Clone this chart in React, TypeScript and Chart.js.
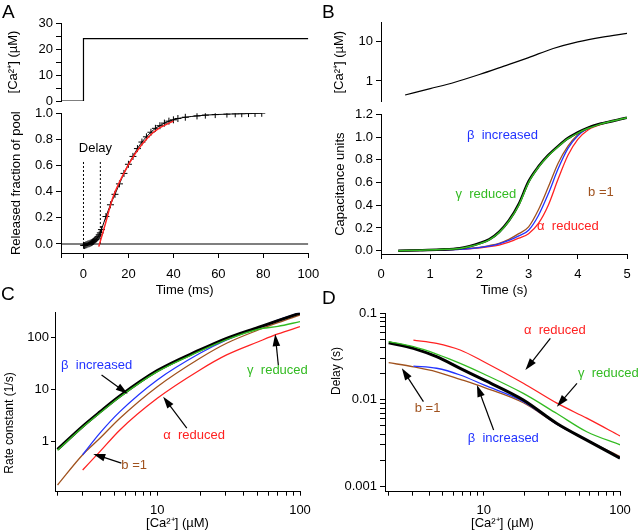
import React, { useEffect, useRef } from 'react';
import { Chart, registerables } from 'chart.js';
Chart.register(...registerables);

const W = 640;
const H = 531;
const FONT = '"Liberation Sans", Arial, Helvetica, sans-serif';
const BLACK = '#000000';
const GREEN = '#33bb22';
const BLUE = '#2233ff';
const RED = '#ff2222';
const BROWN = '#a0521e';

// ---------- Panel A (top): Ca step ----------
const stepTime = [-10, 0, 0, 100];
const stepCa = [0, 0, 24, 24];
const aTopTicks = [0, 5, 10, 15, 20, 25, 30];
const aTopLabels = [0, 10, 20, 30];

// ---------- Panel A (bottom): released fraction ----------
const relTime = [0, 0.5, 1, 1.5, 2, 2.5, 3, 3.5, 4, 4.5, 5, 5.5, 6, 6.5, 7, 7.5, 8, 10, 12, 14, 16, 18, 20, 22, 24, 26, 28, 30, 32, 34, 36, 38, 40, 42, 45.3, 50.5, 54.2, 58.6, 63.8, 67.5, 70.4, 73.4, 76.3, 79.3];
const relFrac = [-0.01, -0.012, -0.008, -0.005, 0, 0.002, 0.006, 0.01, 0.015, 0.02, 0.028, 0.035, 0.045, 0.055, 0.07, 0.085, 0.11, 0.21, 0.3, 0.38, 0.46, 0.54, 0.61, 0.67, 0.73, 0.78, 0.82, 0.855, 0.885, 0.905, 0.925, 0.94, 0.95, 0.96, 0.97, 0.98, 0.986, 0.99, 0.994, 0.996, 0.997, 0.998, 0.999, 1.0];
const fitTime = [6.8, 9.8, 12.7, 17.2, 23.1, 29, 34, 37.9, 40];
const fitFrac = [-0.02, 0.158, 0.337, 0.515, 0.694, 0.821, 0.89, 0.923, 0.94];
const baseTime = [-10, 100];
const baseFrac = [0, 0];
const delayTimes = [0, 7.5];
const delayTop = 0.64;
const aBotYTicks = [0, 0.2, 0.4, 0.6, 0.8, 1.0];
const aXTicks = [-10, 0, 20, 40, 60, 80, 100];
const aXLabels = [0, 20, 40, 60, 80, 100];

// ---------- Panel B (top): Ca ramp ----------
const rampTime = [0.49, 1, 1.5, 2, 2.5, 3, 3.5, 4, 4.5, 5];
const rampCa = [0.44, 0.64, 0.93, 1.46, 2.39, 3.94, 6.7, 9.9, 13.1, 16.2];
const bTopTicks = [1, 10];

// ---------- Panel B (bottom): capacitance ----------
const capTime = [0.35, 0.8, 1.2, 1.6, 1.8, 2.0, 2.2, 2.4, 2.6, 2.8, 3.0, 3.2, 3.4, 3.6, 3.8, 4.0, 4.2, 4.4, 4.6, 4.8, 5.0];
const capBlack = [0.0, 0.004, 0.01, 0.022, 0.04, 0.065, 0.1, 0.165, 0.265, 0.41, 0.61, 0.74, 0.84, 0.92, 0.99, 1.04, 1.08, 1.11, 1.13, 1.15, 1.17];
const capGreen = [0.0, 0.004, 0.01, 0.02, 0.037, 0.06, 0.095, 0.16, 0.26, 0.4, 0.6, 0.735, 0.835, 0.915, 0.985, 1.035, 1.075, 1.105, 1.13, 1.15, 1.17];
const capBrown = [0.0, 0.003, 0.007, 0.014, 0.02, 0.03, 0.045, 0.065, 0.1, 0.15, 0.21, 0.36, 0.56, 0.77, 0.92, 1.02, 1.08, 1.11, 1.13, 1.15, 1.17];
const capBlue = [0.0, 0.003, 0.007, 0.013, 0.019, 0.028, 0.04, 0.06, 0.09, 0.13, 0.18, 0.31, 0.5, 0.72, 0.9, 1.01, 1.075, 1.11, 1.13, 1.15, 1.17];
const capRed = [0.0, 0.003, 0.006, 0.012, 0.017, 0.025, 0.035, 0.05, 0.075, 0.11, 0.15, 0.24, 0.4, 0.63, 0.84, 0.98, 1.06, 1.1, 1.13, 1.15, 1.17];
const bBotYTicks = [0, 0.2, 0.4, 0.6, 0.8, 1.0, 1.2];
const bXTicks = [0, 1, 2, 3, 4, 5];

// ---------- Panel C: rate constant ----------
const rateConc = [2, 3, 3.96, 5.47, 10, 19.9, 30.6, 51, 70, 100];
const rateConcLate = [3, 3.96, 5.47, 10, 19.9, 30.6, 51, 70, 100];
const rateBlack = [0.7, 1.94, 3.66, 7.43, 22.8, 57, 95.6, 155, 209, 290];
const rateGreen = [0.67, 1.86, 3.5, 7.1, 21.8, 54, 90, 143, 162, 200];
const rateBrown = [0.144, 0.55, 1.14, 2.77, 11.2, 39.5, 76.7, 138, 191, 268];
const rateBlue = [0.55, 1.43, 3.71, 15.1, 49.2, 88.7, 155, 215, 297];
const rateRed = [0.28, 0.63, 1.65, 6.7, 23.5, 45.7, 82, 116, 160];
const logXTicks = [2, 3, 4, 5, 6, 7, 8, 9, 10, 20, 30, 40, 50, 60, 70, 80, 90, 100];
const logXLabels = [10, 100];
const cYTicks = [1, 10, 100];

// ---------- Panel D: delay ----------
const delayConc = [2, 3.04, 4.5, 6.7, 10, 19.5, 34.4, 57, 100];
const delayConcLate = [3.04, 4.5, 6.7, 10, 19.5, 34.4, 57, 100];
const delayBlack = [0.0457, 0.0393, 0.0314, 0.023, 0.0169, 0.0099, 0.0053, 0.0034, 0.0021];
const delayGreen = [0.047, 0.041, 0.0337, 0.0263, 0.0198, 0.0118, 0.0069, 0.00425, 0.003];
const delayBrown = [0.0268, 0.024, 0.021, 0.0172, 0.0139, 0.0092, 0.0052, 0.0034, 0.0022];
const delayBlue = [0.0245, 0.0231, 0.0193, 0.0148, 0.0095, 0.0052, 0.0034, 0.00214];
const delayRed = [0.049, 0.0449, 0.0376, 0.0275, 0.0155, 0.0091, 0.0061, 0.0038];
const dYTicks = [0.001, 0.002, 0.003, 0.004, 0.005, 0.006, 0.007, 0.008, 0.009, 0.01, 0.02, 0.03, 0.04, 0.05, 0.06, 0.07, 0.08, 0.09, 0.1];
const dYLabels = [0.001, 0.01, 0.1];

// ---------- annotations (data coordinates) ----------
const bNotes = [
  { text: 'β  increased', x: 2.47, y: 1.018, color: BLUE },
  { text: 'γ  reduced', x: 2.13, y: 0.496, color: GREEN },
  { text: 'b =1', x: 4.47, y: 0.516, color: BROWN },
  { text: 'α  reduced', x: 3.8, y: 0.217, color: RED },
];
const cNotes = [
  { text: 'β  increased', x: 3.76, y: 29.3, color: BLUE },
  { text: 'γ  reduced', x: 69.5, y: 23.5, color: GREEN },
  { text: 'α  reduced', x: 18.1, y: 1.32, color: RED },
  { text: 'b =1', x: 6.89, y: 0.35, color: BROWN },
];
const cArrows = [
  { x1: 4.07, y1: 18.8, x2: 6.2, y2: 8.2 },
  { x1: 70.5, y1: 29.3, x2: 67, y2: 115 },
  { x1: 16.1, y1: 1.78, x2: 11.0, y2: 7.2 },
  { x1: 5.6, y1: 0.38, x2: 3.56, y2: 0.57 },
];
const dNotes = [
  { text: 'α  reduced', x: 33.2, y: 0.064, color: RED },
  { text: 'γ  reduced', x: 82, y: 0.0202, color: GREEN },
  { text: 'b =1', x: 3.86, y: 0.00793, color: BROWN },
  { text: 'β  increased', x: 13.9, y: 0.00357, color: BLUE },
];
const dArrows = [
  { x1: 30.8, y1: 0.0513, x2: 20.2, y2: 0.022 },
  { x1: 48.3, y1: 0.0154, x2: 34.4, y2: 0.0083 },
  { x1: 3.6, y1: 0.0095, x2: 2.5, y2: 0.0231 },
  { x1: 11.8, y1: 0.00445, x2: 8.9, y2: 0.0148 },
];

// ---------- helpers ----------
const pts = (xs: number[], ys: number[]) => ys.map((y, i) => ({ x: xs[i], y }));

function lineDs(xs: number[], ys: number[], color: string, width: number, extra: any = {}) {
  return {
    data: pts(xs, ys),
    borderColor: color,
    backgroundColor: color,
    borderWidth: width,
    pointRadius: 0,
    pointHoverRadius: 0,
    fill: false,
    tension: 0,
    cubicInterpolationMode: 'monotone',
    ...extra,
  };
}

const isIn = (list: number[], v: number) => list.some((l) => Math.abs(l - v) <= 1e-9 * Math.max(1e-6, Math.abs(l)));

function mkAxis(o: any) {
  return {
    type: o.type ?? 'linear',
    display: true,
    min: o.min,
    max: o.max,
    bounds: 'data',
    border: { display: true, color: BLACK, width: 1 },
    grid: { display: true, drawOnChartArea: false, drawTicks: true, tickLength: o.tl ?? 5, color: BLACK, lineWidth: 1 },
    ticks: {
      color: BLACK,
      font: { family: FONT, size: 13 },
      padding: o.pad ?? 3,
      autoSkip: false,
      maxRotation: 0,
      minRotation: 0,
      stepSize: o.step,
      callback: (v: any) => (isIn(o.labels, Number(v)) ? o.fmt(Number(v)) : ''),
    },
    afterBuildTicks: (s: any) => {
      s.ticks = o.ticks.map((v: number) => ({ value: v }));
    },
    afterFit: (s: any) => {
      if (o.horizontal) s.height = o.size;
      else s.width = o.size;
    },
    title: o.title
      ? { display: true, text: o.title, color: BLACK, font: { family: FONT, size: o.titleSize ?? 13 }, padding: o.titlePad ?? { top: 4, bottom: 4 } }
      : { display: false },
  };
}

function drawText(ctx: any, text: string, x: number, y: number, color: string, size = 13, rot = 0) {
  ctx.save();
  ctx.font = `${size}px ${FONT}`;
  ctx.fillStyle = color;
  ctx.textAlign = 'center';
  ctx.textBaseline = 'middle';
  ctx.translate(x, y);
  if (rot) ctx.rotate(rot);
  ctx.fillText(text, 0, 0);
  ctx.restore();
}

function drawArrow(ctx: any, x1: number, y1: number, x2: number, y2: number) {
  const a = Math.atan2(y2 - y1, x2 - x1);
  const hl = 12;
  const hw = 3.8;
  ctx.save();
  ctx.strokeStyle = BLACK;
  ctx.fillStyle = BLACK;
  ctx.lineWidth = 1.2;
  ctx.beginPath();
  ctx.moveTo(x1, y1);
  ctx.lineTo(x2 - hl * 0.8 * Math.cos(a), y2 - hl * 0.8 * Math.sin(a));
  ctx.stroke();
  ctx.beginPath();
  ctx.moveTo(x2, y2);
  ctx.lineTo(x2 - hl * Math.cos(a) + hw * Math.sin(a), y2 - hl * Math.sin(a) - hw * Math.cos(a));
  ctx.lineTo(x2 - hl * Math.cos(a) - hw * Math.sin(a), y2 - hl * Math.sin(a) + hw * Math.cos(a));
  ctx.closePath();
  ctx.fill();
  ctx.restore();
}

function notesPlugin(notes: any[], arrows: any[], extra?: (ctx: any, chart: any) => void) {
  return {
    id: 'notes',
    afterDraw(chart: any) {
      const ctx = chart.ctx;
      const sx = chart.scales.x;
      const sy = chart.scales.y;
      notes.forEach((n) => drawText(ctx, n.text, sx.getPixelForValue(n.x), sy.getPixelForValue(n.y), n.color));
      arrows.forEach((a) =>
        drawArrow(ctx, sx.getPixelForValue(a.x1), sy.getPixelForValue(a.y1), sx.getPixelForValue(a.x2), sy.getPixelForValue(a.y2))
      );
      if (extra) extra(ctx, chart);
    },
  };
}

function baseOptions(padding: any, scales: any) {
  return {
    responsive: false,
    animation: false,
    events: [],
    layout: { padding },
    plugins: { legend: { display: false }, tooltip: { enabled: false } },
    scales,
  };
}

const fmt0 = (v: number) => String(v);
const fmt1 = (v: number) => v.toFixed(1);

// ---------- chart factories ----------
function makeATop() {
  return {
    type: 'line',
    data: { datasets: [lineDs(stepTime, stepCa, BLACK, 1.2, { cubicInterpolationMode: 'default' })] },
    options: baseOptions(
      { left: 1.5, top: 23, right: W - 308.3, bottom: H - 101 },
      {
        x: { type: 'linear', display: false, min: -10, max: 100 },
        y: mkAxis({ min: 0, max: 30, step: 5, ticks: aTopTicks, labels: aTopLabels, fmt: fmt0, size: 59.5, title: '[Ca²⁺] (µM)' }),
      }
    ),
    plugins: [
      {
        id: 'letters',
        afterDraw(chart: any) {
          const ctx = chart.ctx;
          ctx.save();
          ctx.font = `19px ${FONT}`;
          ctx.fillStyle = BLACK;
          ctx.textAlign = 'left';
          ctx.textBaseline = 'alphabetic';
          ctx.fillText('A', 2, 18);
          ctx.fillText('B', 322, 18);
          ctx.fillText('C', 1, 300);
          ctx.fillText('D', 322, 304);
          ctx.restore();
        },
      },
    ],
  };
}

function makeABottom() {
  const dashed = (t: number) =>
    lineDs([t, t], [0, delayTop], BLACK, 1, { borderDash: [2, 2], cubicInterpolationMode: 'default' });
  return {
    type: 'line',
    data: {
      datasets: [
        lineDs(fitTime, fitFrac, RED, 1.5),
        lineDs(relTime, relFrac, BLACK, 1, { pointRadius: 3.5, pointStyle: 'cross', pointBorderWidth: 1, pointBorderColor: BLACK }),
        lineDs(baseTime, baseFrac, BLACK, 1.2, { cubicInterpolationMode: 'default' }),
        dashed(delayTimes[0]),
        dashed(delayTimes[1]),
      ],
    },
    options: baseOptions(
      { left: 4.9, top: 113.3, right: W - 308.3, bottom: H - 301.8 },
      {
        x: mkAxis({ min: -10, max: 100, ticks: aXTicks, labels: aXLabels, fmt: fmt0, horizontal: true, size: 48.8, pad: 9, title: 'Time (ms)' }),
        y: mkAxis({ min: -0.069, max: 1.0, ticks: aBotYTicks, labels: aBotYTicks, fmt: fmt1, size: 56.1, title: 'Released fraction of pool' }),
      }
    ),
    plugins: [notesPlugin([{ text: 'Delay', x: 5.3, y: 0.73, color: BLACK }], [])],
  };
}

function makeBTop() {
  return {
    type: 'line',
    data: { datasets: [lineDs(rampTime, rampCa, BLACK, 1.2)] },
    options: baseOptions(
      { left: 327.2, top: 22.7, right: W - 627, bottom: H - 101.7 },
      {
        x: { type: 'linear', display: false, min: 0, max: 5 },
        y: mkAxis({ type: 'logarithmic', min: 0.297, max: 30.4, ticks: bTopTicks, labels: bTopTicks, fmt: fmt0, size: 53.8, title: '[Ca²⁺] (µM)' }),
      }
    ),
  };
}

function makeBBottom() {
  return {
    type: 'line',
    data: {
      datasets: [
        lineDs(capTime, capGreen, GREEN, 1.5),
        lineDs(capTime, capBlack, BLACK, 2.6),
        lineDs(capTime, capBlue, BLUE, 1.3),
        lineDs(capTime, capBrown, BROWN, 1.3),
        lineDs(capTime, capRed, RED, 1.3),
      ],
    },
    options: baseOptions(
      { left: 328.2, top: 114.3, right: W - 627, bottom: H - 301.8 },
      {
        x: mkAxis({ min: 0, max: 5, ticks: bXTicks, labels: bXTicks, fmt: fmt0, horizontal: true, size: 47.8, pad: 8, title: 'Time (s)' }),
        y: mkAxis({ min: -0.029, max: 1.2, ticks: bBotYTicks, labels: bBotYTicks, fmt: fmt1, size: 52.8, title: 'Capacitance units' }),
      }
    ),
    plugins: [notesPlugin(bNotes, [])],
  };
}

function makeC() {
  return {
    type: 'line',
    data: {
      datasets: [
        lineDs(rateConc, rateGreen, GREEN, 1.4),
        lineDs(rateConc, rateBlack, BLACK, 3),
        lineDs(rateConcLate, rateBlue, BLUE, 1.3),
        lineDs(rateConc, rateBrown, BROWN, 1.3),
        lineDs(rateConcLate, rateRed, RED, 1.3),
      ],
    },
    options: baseOptions(
      { left: 20, top: 312.7, right: W - 300, bottom: 0.2 },
      {
        x: mkAxis({ type: 'logarithmic', min: 1.92, max: 100, ticks: logXTicks, labels: logXLabels, fmt: fmt0, horizontal: true, size: 39.1, tl: 4, pad: 6.5, title: '[Ca²⁺] (µM)', titlePad: { top: 0, bottom: 0 } }),
        y: mkAxis({ type: 'logarithmic', min: 0.107, max: 297, ticks: cYTicks, labels: cYTicks, fmt: fmt0, size: 35, tl: 4, pad: 2 }),
      }
    ),
    plugins: [
      notesPlugin(cNotes, cArrows, (ctx: any) => drawText(ctx, 'Rate constant (1/s)', 10, 423, BLACK, 12, -Math.PI / 2)),
    ],
  };
}

function makeD() {
  return {
    type: 'line',
    data: {
      datasets: [
        lineDs(delayConc, delayGreen, GREEN, 1.3),
        lineDs(delayConc, delayBlack, BLACK, 3),
        lineDs(delayConcLate, delayBlue, BLUE, 1.3),
        lineDs(delayConc, delayBrown, BROWN, 1.3),
        lineDs(delayConcLate, delayRed, RED, 1.3),
      ],
    },
    options: baseOptions(
      { left: 335, top: 313.3, right: W - 620, bottom: 0.2 },
      {
        x: mkAxis({ type: 'logarithmic', min: 1.88, max: 100, ticks: logXTicks, labels: logXLabels, fmt: fmt0, horizontal: true, size: 39.1, tl: 4, pad: 6.5, title: '[Ca²⁺] (µM)', titlePad: { top: 0, bottom: 0 } }),
        y: mkAxis({ type: 'logarithmic', min: 0.000859, max: 0.1, ticks: dYTicks, labels: dYLabels, fmt: fmt0, size: 50, tl: 5, pad: 3 }),
      }
    ),
    plugins: [notesPlugin(dNotes, dArrows, (ctx: any) => drawText(ctx, 'Delay (s)', 337, 371, BLACK, 12, -Math.PI / 2))],
  };
}

function Panel({ make }: { make: () => any }) {
  const ref = useRef<HTMLCanvasElement | null>(null);
  useEffect(() => {
    if (!ref.current) return;
    const chart = new Chart(ref.current, make());
    return () => chart.destroy();
  }, [make]);
  return <canvas ref={ref} width={W} height={H} style={{ position: 'absolute', left: 0, top: 0, width: W, height: H }} />;
}

const factories = [makeATop, makeABottom, makeBTop, makeBBottom, makeC, makeD];

export default function App() {
  return (
    <div style={{ position: 'fixed', left: 0, top: 0, width: W, height: H, background: '#ffffff', overflow: 'hidden' }}>
      {factories.map((f, i) => (
        <Panel key={i} make={f} />
      ))}
    </div>
  );
}
